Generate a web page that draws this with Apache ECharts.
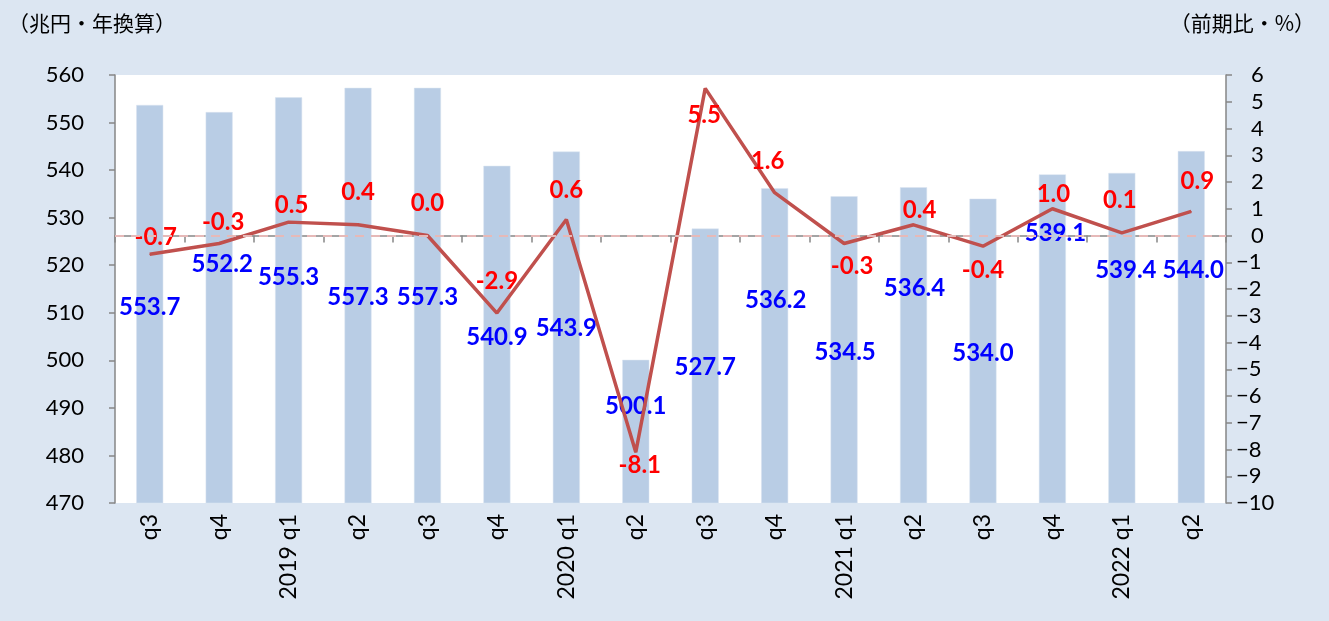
<!DOCTYPE html>
<html>
<head>
<meta charset="utf-8">
<script src="https://cdn.jsdelivr.net/npm/echarts@6/dist/echarts.min.js"></script>
<style>
  html, body { margin: 0; padding: 0; background: #dce6f2; }
  #chart { width: 1329px; height: 621px; }
</style>
</head>
<body>
<div id="chart"></div>
<script>
// 四半期ラベル
const categories = ['q3', 'q4', '2019 q1', 'q2', 'q3', 'q4', '2020 q1', 'q2',
  'q3', 'q4', '2021 q1', 'q2', 'q3', 'q4', '2022 q1', 'q2'];
// 実質GDP（兆円・年換算）
const gdpLevel = [553.7, 552.2, 555.3, 557.3, 557.3, 540.9, 543.9, 500.1,
  527.7, 536.2, 534.5, 536.4, 534.0, 539.1, 539.4, 544.0];
// 前期比（%）
const qoqChange = [-0.7, -0.3, 0.5, 0.4, 0.0, -2.9, 0.6, -8.1,
  5.5, 1.6, -0.3, 0.4, -0.4, 1.0, 0.1, 0.9];

// label placement only (px, relative to bar top / line point)
const barLabelPos = [[0, 202], [3, 152], [0, 180], [0, 209], [0, 209], [0, 171], [0, 177], [0, 46],
  [0, 139], [1, 112], [1, 156], [1, 101], [0, 155], [3, 59], [4, 97], [2, 119]];
const lineLabelPos = [[6, -17], [4, -21], [3, -17], [0, -33], [0, -32], [0, -32], [0, -29], [4, 13],
  [-1, 27], [-7, -31], [8, 23], [6, -15], [0, 24], [1, -14], [-2, -33], [6, -30]];

const numFont = 'Lato, "Noto Sans", sans-serif';
const cjkFont = '"Noto Sans CJK JP", sans-serif';

const chart = echarts.init(document.getElementById('chart'));

const option = {
  backgroundColor: '#dce6f2',
  animation: false,
  grid: { left: 115, right: 103, top: 75, bottom: 118, show: true, backgroundColor: '#ffffff', borderWidth: 0 },
  graphic: [
    { type: 'text', left: 8, top: 13, style: { text: '（兆円・年換算）', font: '21px ' + cjkFont, fill: '#000' } },
    { type: 'text', right: 14, top: 13, style: { text: '（前期比・%）', font: '21px ' + cjkFont, fill: '#000' } }
  ],
  xAxis: {
    type: 'category',
    data: categories,
    boundaryGap: true,
    axisLine: { lineStyle: { color: '#868686', width: 1.5 } },
    axisTick: { show: true, length: 7, lineStyle: { color: '#868686', width: 1.5 } },
    axisLabel: { rotate: 90, margin: 11, color: '#000', fontSize: 23, fontFamily: numFont, interval: 0 }
  },
  yAxis: [
    {
      type: 'value', min: 470, max: 560, interval: 10,
      splitLine: { show: false },
      axisLine: { show: true, lineStyle: { color: '#868686', width: 1.5 } },
      axisTick: { show: true, length: 6, lineStyle: { color: '#868686', width: 1.5 } },
      axisLabel: { color: '#000', fontSize: 22, fontFamily: numFont, margin: 31 }
    },
    {
      type: 'value', min: -10, max: 6, interval: 1,
      splitLine: { show: false },
      axisLine: { show: true, lineStyle: { color: '#868686', width: 1.5 } },
      axisTick: { show: true, length: 6, lineStyle: { color: '#868686', width: 1.5 } },
      axisLabel: {
        color: '#000', fontSize: 22, fontFamily: numFont, margin: 10,
        formatter: v => v >= 0 ? '{p|' + v + '}' : '−' + Math.abs(v),
        rich: { p: { padding: [0, 0, 0, 15], fontSize: 22, fontFamily: numFont, color: '#000' } }
      }
    }
  ],
  series: [
    {
      type: 'bar',
      yAxisIndex: 0,
      barWidth: 27,
      itemStyle: { color: '#b9cde5', borderColor: '#dbe5f1', borderWidth: 0.5 },
      label: {
        show: true, color: '#0000ff', fontSize: 24, fontWeight: 'bold', fontFamily: numFont,
        align: 'center', verticalAlign: 'middle',
        formatter: p => p.value.toFixed(1)
      },
      data: gdpLevel.map((v, i) => ({
        value: v,
        label: { position: ['50%', barLabelPos[i][1]], offset: [barLabelPos[i][0], 0] }
      })),
      z: 2
    },
    {
      type: 'line',
      yAxisIndex: 1,
      symbol: 'circle',
      symbolSize: 1,
      lineStyle: { color: '#c0504d', width: 3.5 },
      itemStyle: { color: '#c0504d' },
      label: {
        show: true, position: 'inside', color: '#ff0000', fontSize: 24, fontWeight: 'bold', fontFamily: numFont,
        formatter: p => p.value.toFixed(1)
      },
      data: qoqChange.map((v, i) => ({
        value: v,
        label: { offset: lineLabelPos[i] }
      })),
      markLine: {
        silent: true,
        symbol: 'none',
        label: { show: false },
        lineStyle: { color: '#e6b9b8', type: [9, 7], width: 2 },
        data: [{ yAxis: 0 }]
      },
      z: 3
    }
  ]
};

chart.setOption(option);
</script>
</body>
</html>
